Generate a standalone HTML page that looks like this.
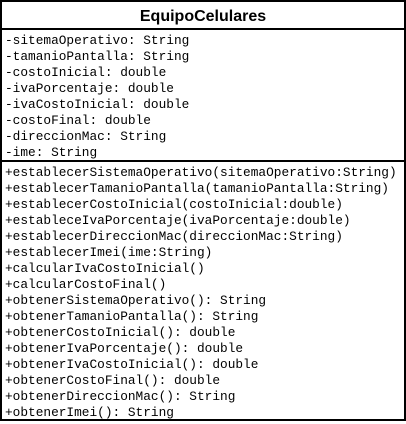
<!DOCTYPE html>
<html><head><style>
body{margin:0;background:#fff;width:406px;height:424px;overflow:hidden}
.box{position:absolute;left:0;top:0;width:402px;height:417px;border:2px solid #000;}
.t{position:absolute;left:0;width:402px;top:6px;text-align:center;font:bold 16px "Liberation Sans",sans-serif;color:#000}
.hl{position:absolute;left:0;width:402px;height:2px;background:#000}
.r{position:absolute;left:3px;font:12.8px "Liberation Mono",monospace;color:#000;white-space:pre;line-height:16px}
</style></head><body>
<div class="box">
<div class="t">EquipoCelulares</div>
<div class="hl" style="top:26px"></div>
<div class="r" style="top:31px">-sitemaOperativo: String
-tamanioPantalla: String
-costoInicial: double
-ivaPorcentaje: double
-ivaCostoInicial: double
-costoFinal: double
-direccionMac: String
-ime: String</div>
<div class="hl" style="top:158px"></div>
<div class="r" style="top:163px">+establecerSistemaOperativo(sitemaOperativo:String)
+establecerTamanioPantalla(tamanioPantalla:String)
+establecerCostoInicial(costoInicial:double)
+estableceIvaPorcentaje(ivaPorcentaje:double)
+establecerDireccionMac(direccionMac:String)
+establecerImei(ime:String)
+calcularIvaCostoInicial()
+calcularCostoFinal()
+obtenerSistemaOperativo(): String
+obtenerTamanioPantalla(): String
+obtenerCostoInicial(): double
+obtenerIvaPorcentaje(): double
+obtenerIvaCostoInicial(): double
+obtenerCostoFinal(): double
+obtenerDireccionMac(): String
+obtenerImei(): String</div>
</div>
</body></html>
